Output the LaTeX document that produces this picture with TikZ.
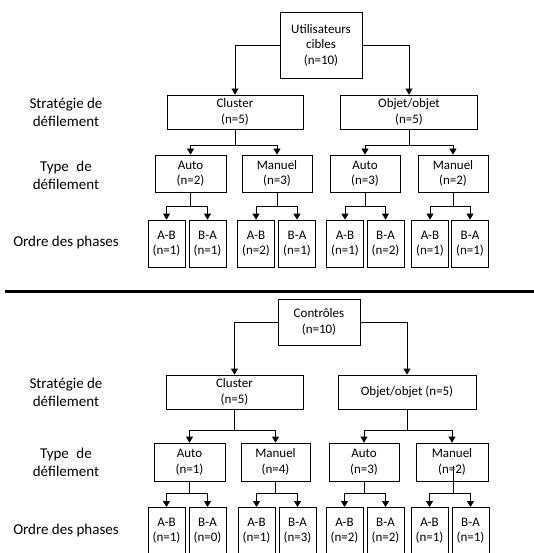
\documentclass[tikz,border=0pt]{standalone}
\usepackage{fontspec}
\setmainfont{Carlito}
\usetikzlibrary{arrows.meta,calc}
\tikzset{
  bx/.style={draw, line width=0.8pt, align=center, inner sep=0pt, font=\fontsize{13}{15.5}\selectfont},
  lbl/.style={align=center, font=\fontsize{15}{18}\selectfont},
  conn/.style={line width=0.8pt},
  arr/.style={line width=0.8pt, -{Triangle[width=7pt,length=6pt]}},
}
\begin{document}
\begin{tikzpicture}[x=1pt,y=-1pt]
\clip (0,0) rectangle (534,553);
\fill[white] (0,0) rectangle (534,553);
% ---------- top section ----------
\node[lbl] (s1) at (66,112) {Stratégie de\\défilement};
\node[lbl] (t1) at (66,175) {Type\enspace de\\défilement};
\node[lbl] (o1) at (66,243) {Ordre des phases};

\node[bx, minimum width=82pt, minimum height=66pt] (r1) at (321,45) {Utilisateurs\\cibles\\(n=10)};
\node[bx, minimum width=136pt, minimum height=34pt] (c1) at (235,112) {Cluster\\(n=5)};
\node[bx, minimum width=137pt, minimum height=34pt] (b1) at (409,112) {Objet/objet\\(n=5)};

\node[bx, minimum width=71pt, minimum height=37pt] (a1) at (190.5,173.5) {Auto\\(n=2)};
\node[bx, minimum width=70pt, minimum height=37pt] (m1) at (277,173.5) {Manuel\\(n=3)};
\node[bx, minimum width=70pt, minimum height=37pt] (a2) at (365,173.5) {Auto\\(n=3)};
\node[bx, minimum width=70pt, minimum height=37pt] (m2) at (453,173.5) {Manuel\\(n=2)};

\foreach \n/\x/\t/\v in {l1/166.5/A-B/1, l2/207.5/B-A/1, l3/256/A-B/2, l4/297/B-A/1,
                        l5/345/A-B/1, l6/385.5/B-A/2, l7/430/A-B/1, l8/470/B-A/1}{
  \node[bx, minimum width=37pt, minimum height=47pt] (\n) at (\x,243.5) {\t\\(n=\v)};
}

\draw[arr] (r1.west) -| (c1.north);
\draw[arr] (r1.east) -| (b1.north);

\coordinate (jc1) at (c1.south |- 0,145);
\coordinate (jb1) at (b1.south |- 0,145);
\draw[conn] (c1.south) -- (jc1);
\draw[arr] (jc1) -| (a1.north);
\draw[arr] (jc1) -| (m1.north);
\draw[conn] (b1.south) -- (jb1);
\draw[arr] (jb1) -| (a2.north);
\draw[arr] (jb1) -| (m2.north);

\coordinate (ja1) at (a1.south |- 0,206);
\coordinate (jm1) at (m1.south |- 0,206);
\coordinate (ja2) at (a2.south |- 0,206);
\coordinate (jm2) at (m2.south |- 0,206);
\draw[conn] (a1.south) -- (ja1);
\draw[arr] (ja1) -| (l1.north);
\draw[arr] (ja1) -| (l2.north);
\draw[conn] (m1.south) -- (jm1);
\draw[arr] (jm1) -| (l3.north);
\draw[arr] (jm1) -| (l4.north);
\draw[conn] (a2.south) -- (ja2);
\draw[arr] (ja2) -| (l5.north);
\draw[arr] (ja2) -| (l6.north);
\draw[conn] (m2.south) -- (jm2);
\draw[arr] (jm2) -| (l7.north);
\draw[arr] (jm2) -| (l8.north);

% ---------- separator ----------
\coordinate (sepL) at (5,291);
\coordinate (sepR) at (534,291);
\draw[line width=3pt] (sepL) -- (sepR);

% ---------- bottom section ----------
\node[lbl] (s2) at (66,392) {Stratégie de\\défilement};
\node[lbl] (t2) at (66,462) {Type\enspace de\\défilement};
\node[lbl] (o2) at (66,530) {Ordre des phases};

\node[bx, minimum width=82pt, minimum height=46pt] (r2) at (319,322) {Contrôles\\(n=10)};
\node[bx, minimum width=137pt, minimum height=34pt] (c2) at (234.5,392) {Cluster\\(n=5)};
\node[bx, minimum width=138pt, minimum height=34pt] (b2) at (407,392) {Objet/objet (n=5)};

\node[bx, minimum width=71pt, minimum height=38pt] (a3) at (189.5,462) {Auto\\(n=1)};
\node[bx, minimum width=69pt, minimum height=38pt] (m3) at (275.5,462) {Manuel\\(n=4)};
\node[bx, minimum width=70pt, minimum height=38pt] (a4) at (364,462) {Auto\\(n=3)};
\node[bx, minimum width=72pt, minimum height=38pt] (m4) at (452,462) {Manuel\\(n=2)};

\foreach \n/\x/\t/\v in {k1/166.5/A-B/1, k2/207.5/B-A/0, k3/256.5/A-B/1, k4/297.5/B-A/3,
                        k5/344.5/A-B/2, k6/385.5/B-A/2, k7/429.5/A-B/1, k8/470.5/B-A/1}{
  \node[bx, minimum width=37pt, minimum height=47pt, anchor=north] (\n) at (\x,507) {\t\\(n=\v)};
}

\draw[arr] (r2.west) -| (c2.north);
\draw[arr] (r2.east) -| (b2.north);

\coordinate (jc2) at (c2.south |- 0,430);
\coordinate (jb2) at (b2.south |- 0,430);
\draw[conn] (c2.south) -- (jc2);
\draw[arr] (jc2) -| (a3.north);
\draw[arr] (jc2) -| (m3.north);
\draw[conn] (b2.south) -- (jb2);
\draw[arr] (jb2) -| (a4.north);
\draw[arr] (jb2) -| (m4.north);

\coordinate (ja3) at (a3.south |- 0,493);
\coordinate (jm3) at (m3.south |- 0,493);
\coordinate (ja4) at (a4.south |- 0,493);
\coordinate (jm4) at (453,493);
\coordinate (m4in) at (453,466);
\draw[conn] (a3.south) -- (ja3);
\draw[arr] (ja3) -| (k1.north);
\draw[arr] (ja3) -| (k2.north);
\draw[conn] (m3.south) -- (jm3);
\draw[arr] (jm3) -| (k3.north);
\draw[arr] (jm3) -| (k4.north);
\draw[conn] (a4.south) -- (ja4);
\draw[arr] (ja4) -| (k5.north);
\draw[arr] (ja4) -| (k6.north);
\draw[conn] (m4in) -- (jm4);
\draw[arr] (jm4) -| (k7.north);
\draw[arr] (jm4) -| (k8.north);
\end{tikzpicture}
\end{document}
